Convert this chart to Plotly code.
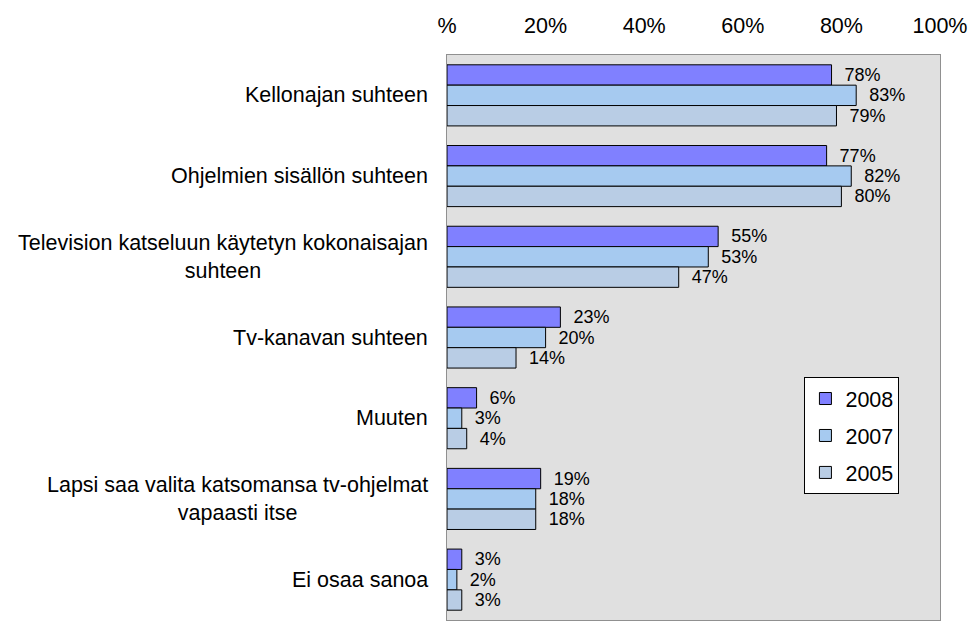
import plotly.graph_objects as go

categories = [
    "Kellonajan suhteen",
    "Ohjelmien sisällön suhteen",
    "Television katseluun käytetyn kokonaisajan<br>suhteen",
    "Tv-kanavan suhteen",
    "Muuten",
    "Lapsi saa valita katsomansa tv-ohjelmat<br>vapaasti itse",
    "Ei osaa sanoa",
]
series_names = ["2008", "2007", "2005"]
v2008 = [78, 77, 55, 23, 6, 19, 3]
v2007 = [83, 82, 53, 20, 3, 18, 2]
v2005 = [79, 80, 47, 14, 4, 18, 3]
values = [v2008, v2007, v2005]
colors = ["#8080FF", "#A6CAF0", "#B9CDE5"]
tick_vals = [0, 20, 40, 60, 80, 100]
tick_text = ["%", "20%", "40%", "60%", "80%", "100%"]

FS = 21.5
LFS = 18
ids = [f"c{i}" for i in range(len(categories))]

fig = go.Figure()
for name, vals, col in zip(series_names, values, colors):
    fig.add_trace(go.Bar(
        y=ids, x=vals, orientation="h", name=name, legendgroup=name,
        marker=dict(color=col, line=dict(color="#000000", width=1)),
        text=[f"\u00a0\u00a0{v}%" for v in vals], textposition="outside",
        constraintext="none",
        textfont=dict(size=LFS, color="#000000"), cliponaxis=False,
    ))

annotations = []
for cid, lab in zip(ids, categories):
    annotations.append(dict(
        x=0, xref="paper", xanchor="right", xshift=-17,
        y=cid, yref="y", yanchor="middle",
        text=lab, showarrow=False, align="center",
        font=dict(size=FS, color="#000000"),
    ))

fig.update_layout(
    width=972, height=621,
    margin=dict(l=447, r=32, t=55, b=1),
    paper_bgcolor="#FFFFFF", plot_bgcolor="#E0E0E0",
    font=dict(family="Liberation Sans, Arial, sans-serif", size=FS, color="#000000"),
    barmode="group", bargap=0.243, bargroupgap=0,
    showlegend=True,
    legend=dict(x=0.725, y=0.43, xanchor="left", yanchor="top",
                bgcolor="#FFFFFF", bordercolor="#000000", borderwidth=1,
                font=dict(size=FS), tracegroupgap=6, traceorder="grouped",
                itemwidth=30),
    annotations=annotations,
)
fig.update_xaxes(range=[0, 100], side="top", tickvals=tick_vals, ticktext=tick_text,
                 showgrid=False, zeroline=False, showline=True, mirror=True,
                 linecolor="#909090", linewidth=1, ticks="", tickfont=dict(size=FS),
                 ticklabelstandoff=12)
fig.update_yaxes(autorange="reversed", showticklabels=False, showgrid=False,
                 showline=True, mirror=True, linecolor="#909090", linewidth=1, ticks="")

fig.write_html("out.html", config={"displayModeBar": False},
               post_script="document.body.style.margin='0';document.body.style.overflow='hidden';")
